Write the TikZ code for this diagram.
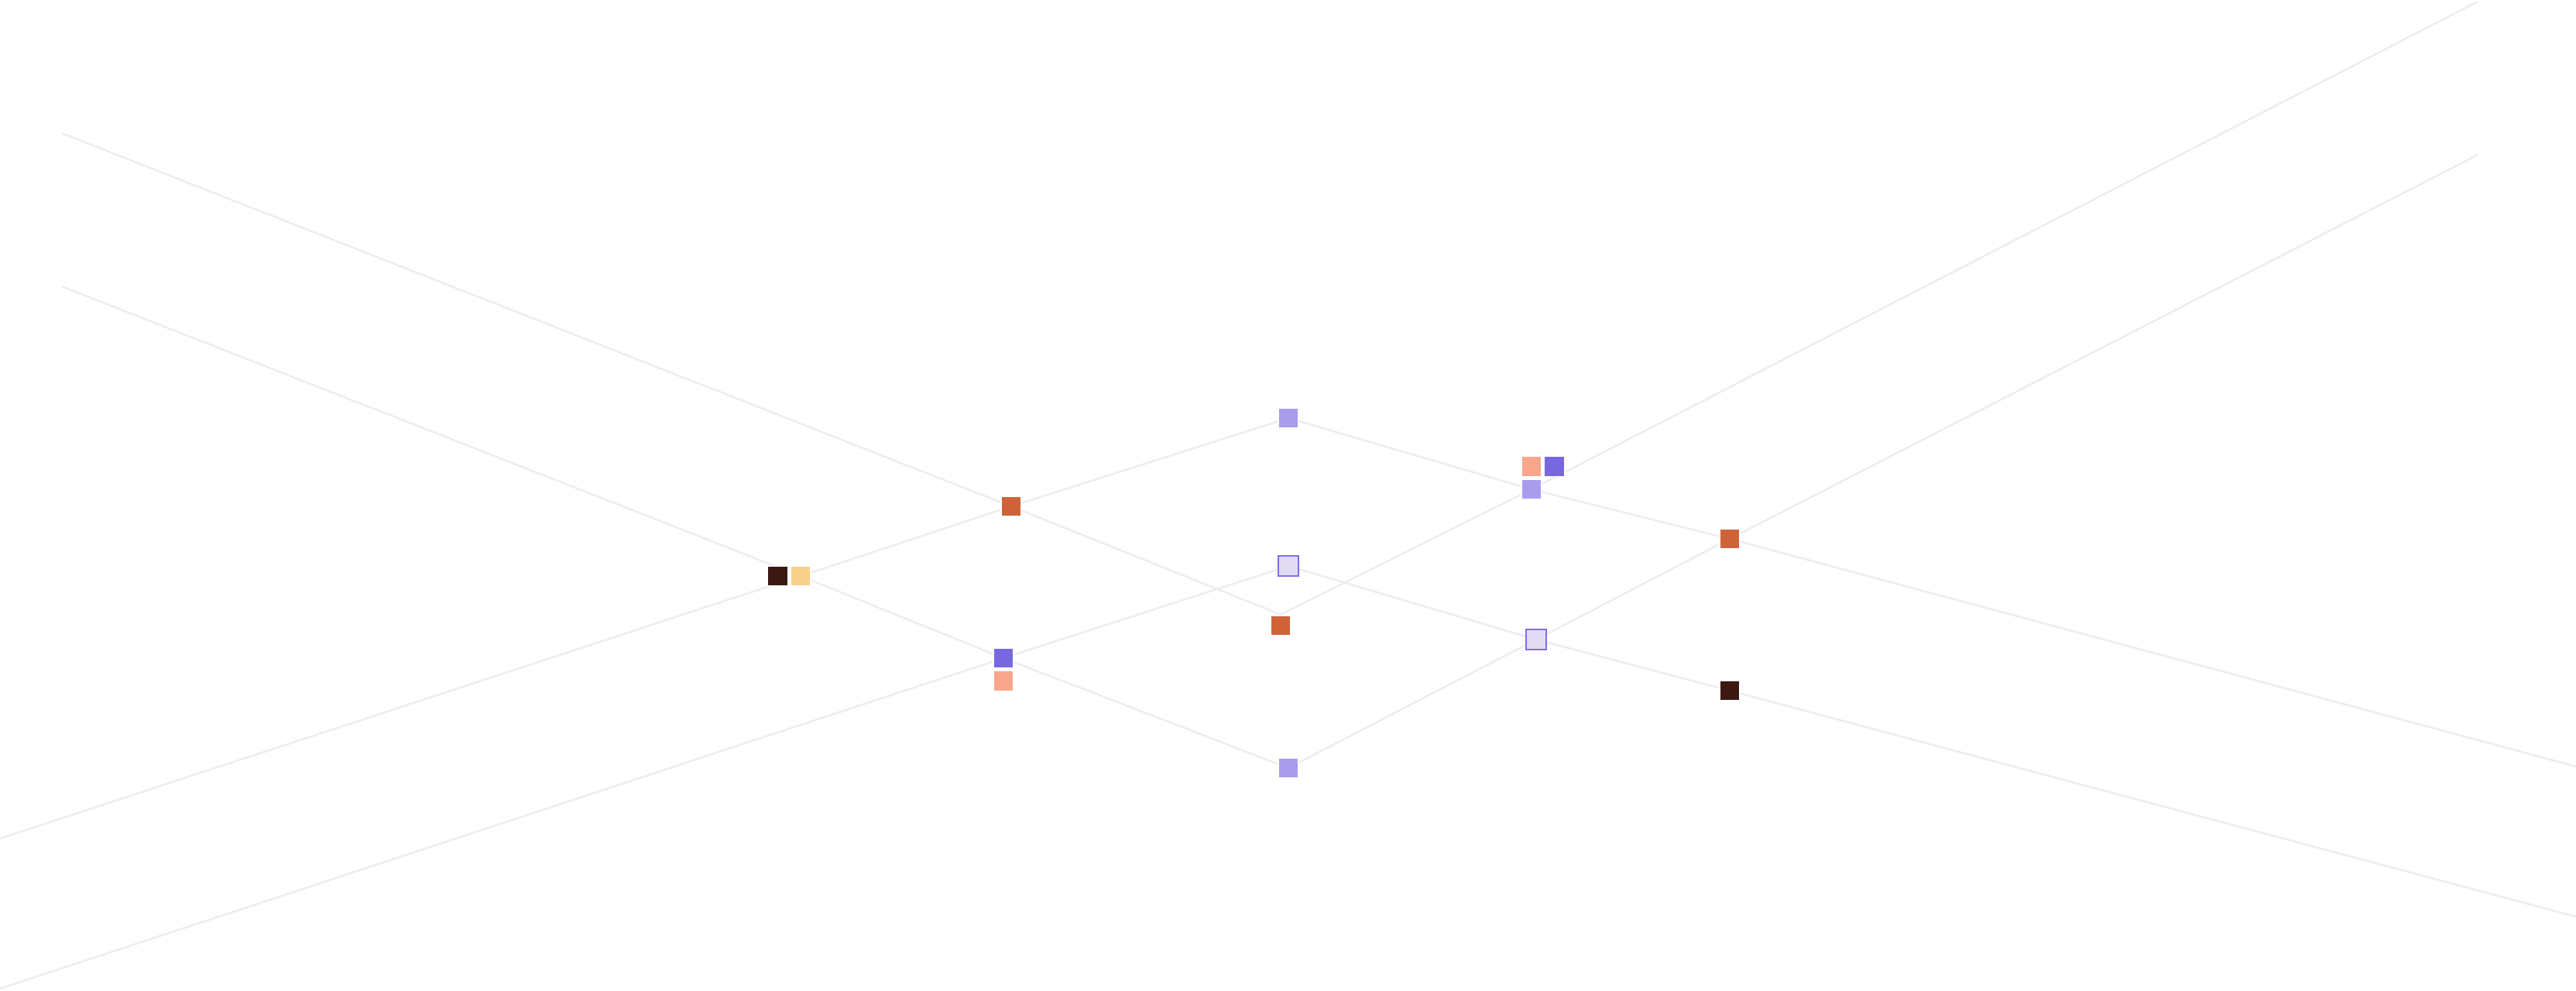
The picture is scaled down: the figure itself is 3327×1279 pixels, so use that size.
\documentclass[tikz,border=0pt]{standalone}
\usetikzlibrary{positioning, backgrounds}
\definecolor{rustc}{HTML}{D0623A}
\definecolor{cocoac}{HTML}{3C1913}
\definecolor{sandc}{HTML}{F8D18C}
\definecolor{violetc}{HTML}{7868E0}
\definecolor{peachc}{HTML}{F9A68C}
\definecolor{lilacc}{HTML}{A99CEC}
\definecolor{mistc}{HTML}{E1DCF3}
\definecolor{mistline}{HTML}{7E6FEA}
\definecolor{linegray}{HTML}{ECECF2}
\begin{document}
\begin{tikzpicture}[x=0.1mm, y=-0.1mm, node distance=0.15mm,
  every node/.style={minimum size=2.66mm, inner sep=0pt, draw=white, line width=0.5pt},
  rust/.style={fill=rustc}, cocoa/.style={fill=cocoac}, sand/.style={fill=sandc},
  violet/.style={fill=violetc}, peach/.style={fill=peachc}, lilac/.style={fill=lilacc},
  mist/.style={fill=mistc, draw=mistline},
  link/.style={draw=linegray, line width=0.7pt, line join=round}]
\useasboundingbox (0,0) rectangle (3327,1279);
\node[sand] (yl) at (1034,744) {};
\node[cocoa, left=of yl] (dk1) {};
\node[rust] (o1) at (1306,654) {};
\node[violet] (pu1) at (1296,850) {};
\node[peach, below=of pu1] (sa1) {};
\node[lilac] (lt) at (1664,540) {};
\node[mist] (ll1) at (1664,731) {};
\node[rust] (o2) at (1654,808) {};
\node[lilac] (lb) at (1664,992) {};
\node[lilac] (lc) at (1978,632) {};
\node[peach, above=of lc] (sa2) {};
\node[violet, right=of sa2] (pu2) {};
\node[mist] (ll2) at (1984,826) {};
\node[rust] (o3) at (2234,696) {};
\node[cocoa] (dk2) at (2234,892) {};
\coordinate (a1) at (80,172);
\coordinate (a2) at (80,370);
\coordinate (b1) at (0,1083);
\coordinate (b2) at (0,1277);
\coordinate (e1) at (3200,2);
\coordinate (e2) at (3200,200);
\coordinate (r1) at (3327,990);
\coordinate (r2) at (3327,1184);
\begin{scope}[on background layer]
\draw[link] (a1) -- (o1.center) -- (o2.north) -- (lc.center) -- (e1);
\draw[link] (a2) -- (yl.center) -- (pu1.center) -- (lb.center) -- (ll2.center) -- (o3.center) -- (e2);
\draw[link] (b1) -- (yl.center) -- (o1.center) -- (lt.center) -- (lc.center) -- (o3.center) -- (r1);
\draw[link] (b2) -- (pu1.center) -- (ll1.center) -- (ll2.center) -- (dk2.center) -- (r2);
\end{scope}
\end{tikzpicture}
\end{document}
